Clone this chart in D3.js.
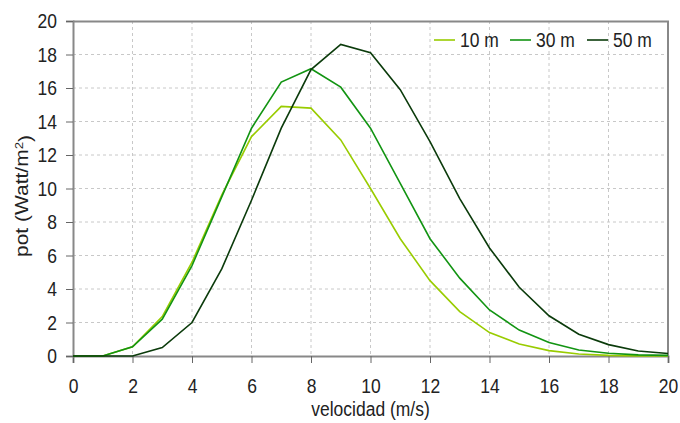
<!DOCTYPE html>
<html>
<head>
<meta charset="utf-8">
<script src="https://cdn.jsdelivr.net/npm/d3@7"></script>
<style>
  body { margin: 0; background: #fff; }
  svg text { font-family: "Liberation Sans", Arial, sans-serif; fill: #222; }
</style>
</head>
<body>
<svg width="680" height="423"></svg>
<script>
// velocidad del viento (m/s)
const speeds = [0, 1, 2, 3, 4, 5, 6, 7, 8, 9, 10, 11, 12, 13, 14, 15, 16, 17, 18, 19, 20];

// potencia (Watt/m2) a cada altura
const pot10 = [0, 0, 0.55, 2.35, 5.6, 9.6, 13.1, 14.9, 14.8, 12.9, 10.0, 7.0, 4.5, 2.65, 1.4, 0.72, 0.32, 0.12, 0.04, 0.01, 0];
const pot30 = [0, 0, 0.55, 2.2, 5.4, 9.5, 13.6, 16.35, 17.15, 16.05, 13.6, 10.3, 7.0, 4.65, 2.75, 1.55, 0.8, 0.36, 0.16, 0.07, 0.04];
const pot50 = [0, 0, 0, 0.5, 2.0, 5.2, 9.3, 13.6, 17.1, 18.6, 18.1, 15.9, 12.8, 9.4, 6.45, 4.1, 2.4, 1.3, 0.68, 0.3, 0.15];

const seriesNames = ["10 m", "30 m", "50 m"];
const seriesColors = ["#99cc00", "#129412", "#0b3b0b"];
const xTicks = [0, 2, 4, 6, 8, 10, 12, 14, 16, 18, 20];
const yTicks = [0, 2, 4, 6, 8, 10, 12, 14, 16, 18, 20];

const svg = d3.select('svg');
const width = +svg.attr('width');
const height = +svg.attr('height');
const margin = { top: 21, right: 12, bottom: 67, left: 73 };
const innerW = width - margin.left - margin.right;
const innerH = height - margin.top - margin.bottom;
// el texto original sale algo estirado en vertical
const stretch = 1.2;
const fs = '17.5px';

const x = d3.scaleLinear().domain([0, 20]).range([0, innerW]);
const y = d3.scaleLinear().domain([0, 20]).range([innerH, 0]);

const g = svg.append('g').attr('transform', `translate(${margin.left},${margin.top})`);

// rejilla punteada
g.append('g')
  .selectAll('line')
  .data(xTicks.slice(1, -1))
  .join('line')
  .attr('x1', d => x(d)).attr('x2', d => x(d))
  .attr('y1', 0).attr('y2', innerH)
  .attr('stroke', '#c8c8c8').attr('stroke-dasharray', '3,3');

g.append('g')
  .selectAll('line')
  .data(yTicks.slice(1, -1))
  .join('line')
  .attr('x1', 0).attr('x2', innerW)
  .attr('y1', d => y(d)).attr('y2', d => y(d))
  .attr('stroke', '#c8c8c8').attr('stroke-dasharray', '3,3');

// marco superior y derecho
g.append('path')
  .attr('d', `M0,0.5H${innerW}V${innerH}`)
  .attr('fill', 'none')
  .attr('stroke', '#888')
  .attr('stroke-width', 2);

// ejes
const xAxis = g.append('g')
  .attr('transform', `translate(0,${innerH})`)
  .call(d3.axisBottom(x).tickValues(xTicks).tickSize(7));

const yAxis = g.append('g')
  .call(d3.axisLeft(y).tickValues(yTicks).tickSize(7).tickPadding(9));

[xAxis, yAxis].forEach(a => {
  a.select('.domain').attr('stroke', '#888').attr('stroke-width', 2);
  a.selectAll('.tick line').attr('stroke', '#666');
  a.selectAll('.tick text')
    .style('font-size', fs)
    .attr('fill', '#222')
    .attr('transform', `scale(1,${stretch})`);
});
xAxis.selectAll('.tick text').attr('dy', 0).attr('y', 37 / stretch);

// curvas
const data = [pot10, pot30, pot50];
const line = d3.line()
  .x((d, i) => x(speeds[i]))
  .y(d => y(d));

g.selectAll('.serie')
  .data(data)
  .join('path')
  .attr('class', 'serie')
  .attr('d', d => line(d))
  .attr('fill', 'none')
  .attr('stroke', (d, i) => seriesColors[i])
  .attr('stroke-width', 1.6);

// leyenda
const legendX = [361, 437, 514];
const legend = g.selectAll('.leg')
  .data(seriesNames)
  .join('g')
  .attr('class', 'leg')
  .attr('transform', (d, i) => `translate(${legendX[i]},19)`);

legend.append('line')
  .attr('x1', 0).attr('x2', 21)
  .attr('stroke', (d, i) => seriesColors[i])
  .attr('stroke-width', 1.6);

legend.append('text')
  .attr('x', 26)
  .attr('dy', '0.35em')
  .attr('transform', `scale(1,${stretch})`)
  .style('font-size', fs)
  .text(d => d);

// títulos de ejes
svg.append('text')
  .attr('transform', `translate(${margin.left + innerW / 2},416) scale(1,${stretch})`)
  .attr('text-anchor', 'middle')
  .style('font-size', fs)
  .text('velocidad (m/s)');

const yTitle = svg.append('text')
  .attr('transform', `translate(28,196) scale(1,${stretch}) rotate(-90)`)
  .attr('text-anchor', 'middle')
  .style('font-size', fs);
yTitle.append('tspan').text('pot (Watt/m');
yTitle.append('tspan').attr('dy', '-0.45em').style('font-size', '11px').text('2');
yTitle.append('tspan').attr('dy', '0.45em').text(')');
</script>
</body>
</html>
